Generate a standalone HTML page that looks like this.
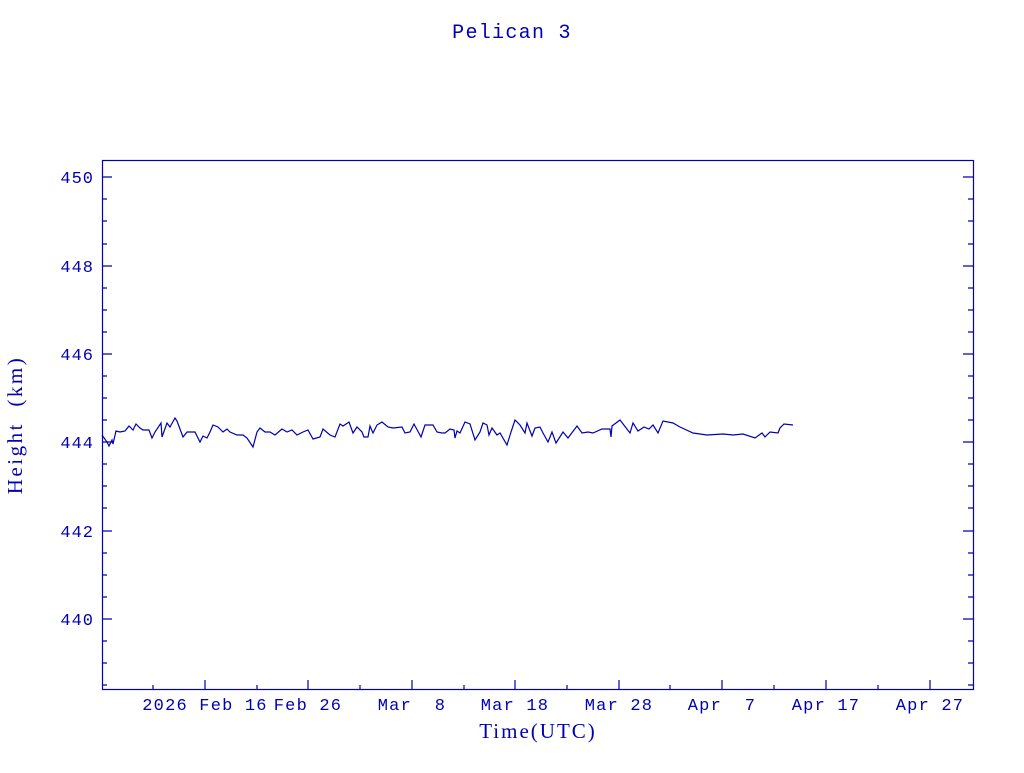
<!DOCTYPE html>
<html><head><meta charset="utf-8"><style>
html,body{margin:0;padding:0;background:#fff;}
text{white-space:pre;}
</style></head><body>
<svg width="1024" height="768" xmlns="http://www.w3.org/2000/svg" font-family="Liberation Serif, serif" fill="#0000b4">
<rect width="1024" height="768" fill="#fff"/>
<text x="512" y="38" text-anchor="middle" font-size="20" letter-spacing="1.3" font-family="Liberation Mono, monospace">Pelican 3</text>
<rect x="102.5" y="160.5" width="871" height="529" fill="none" stroke="#0000b4" stroke-width="1.2"/>
<g stroke="#0000b4" stroke-width="1.2">
<path d="M102 177h10M102 266h10M102 354h10M102 442h10M102 531h10M102 619h10
M973 177h-10M973 266h-10M973 354h-10M973 442h-10M973 531h-10M973 619h-10
M102 199h5M102 221h5M102 244h5M102 288h5M102 310h5M102 332h5M102 376h5M102 398h5M102 420h5M102 464h5M102 486h5M102 508h5M102 553h5M102 575h5M102 597h5M102 641h5M102 663h5M102 685h5
M973 199h-5M973 221h-5M973 244h-5M973 288h-5M973 310h-5M973 332h-5M973 376h-5M973 398h-5M973 420h-5M973 464h-5M973 486h-5M973 508h-5M973 553h-5M973 575h-5M973 597h-5M973 641h-5M973 663h-5M973 685h-5"/>
<path d="M205 689v-9M308 689v-9M412 689v-9M515 689v-9M619 689v-9M722 689v-9M826 689v-9M930 689v-9
M153 689v-4M257 689v-4M360 689v-4M464 689v-4M567 689v-4M670 689v-4M774 689v-4M878 689v-4"/>
</g>
<g font-size="17" letter-spacing="1" font-family="Liberation Mono, monospace" text-anchor="end">
<text x="94" y="183">450</text><text x="94" y="272">448</text><text x="94" y="360">446</text>
<text x="94" y="448">444</text><text x="94" y="537">442</text><text x="94" y="625">440</text>
</g>
<g font-size="17" letter-spacing="1.2" font-family="Liberation Mono, monospace" text-anchor="middle">
<text x="205" y="710">2026 Feb 16</text><text x="308" y="710">Feb 26</text><text x="412" y="710">Mar  8</text>
<text x="515" y="710">Mar 18</text><text x="619" y="710">Mar 28</text><text x="722" y="710">Apr  7</text>
<text x="826" y="710">Apr 17</text><text x="930" y="710">Apr 27</text>
</g>
<text x="538" y="738" text-anchor="middle" font-size="21" letter-spacing="2">Time(UTC)</text>
<text transform="translate(22,425) rotate(-90)" text-anchor="middle" font-size="21" letter-spacing="2.5">Height  (km)</text>
<polyline fill="none" stroke="#0000b4" stroke-width="1.2" points="102,435 107,442 109,446 112,440 113,444 116,431 120,432 125,431 129,426 133,430 136,424 140,428 143,430 149,430 152,438 155,432 161,423 162,437 167,423 170,427 175,418 177,421 183,437 187,432 195,432 200,442 203,436 207,438 210,432 213,425 218,427 223,432 227,429 230,432 237,435 243,435 247,438 253,447 257,432 260,428 265,432 270,432 275,435 282,429 287,432 292,430 297,435 303,432 308,430 313,439 320,437 323,429 330,435 335,437 340,424 343,426 349,422 353,433 357,427 362,432 364,437 368,437 370,426 373,433 377,425 382,422 388,427 393,428 402,427 405,433 410,432 414,424 421,437 425,425 433,425 437,432 442,433 445,433 450,429 454,430 455,438 457,431 460,433 465,422 470,424 475,440 480,432 483,423 487,425 489,435 492,428 497,435 500,433 507,445 511,432 515,420 520,425 525,433 527,423 532,436 535,428 540,427 543,433 548,442 552,432 556,443 563,432 568,438 577,426 582,433 588,432 593,433 602,429 610,429 611,437 612,426 620,420 630,433 633,423 638,431 644,427 649,429 653,425 658,433 663,421 673,423 680,427 693,433 707,435 723,434 733,435 743,434 755,438 762,433 765,437 770,432 778,433 780,428 784,424 793,425"/>
</svg>
</body></html>
